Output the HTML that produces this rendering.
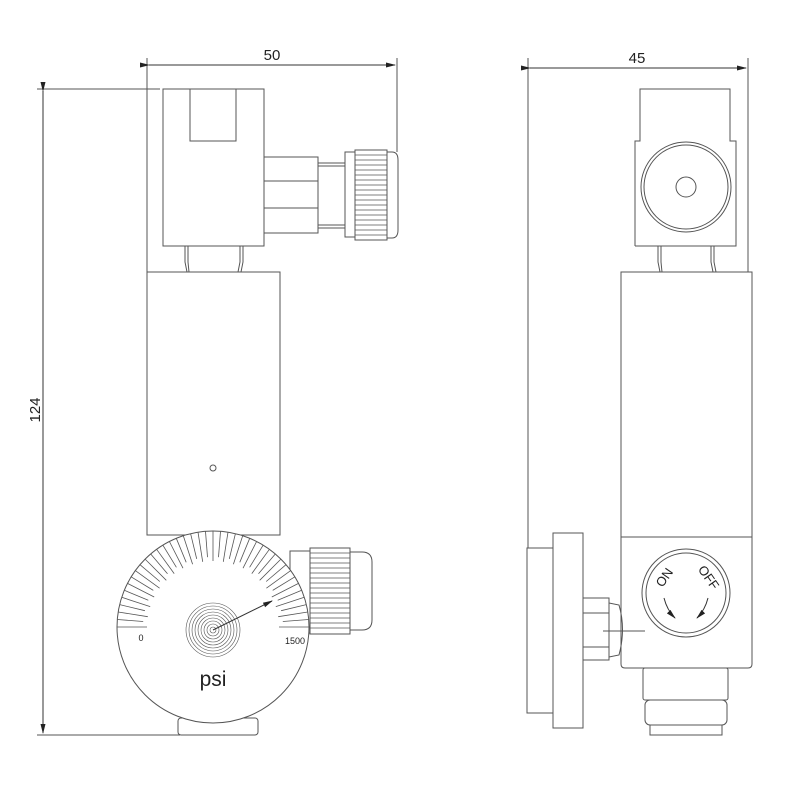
<!DOCTYPE html>
<html><head><meta charset="utf-8"><style>
html,body{margin:0;padding:0;background:#fff;width:800px;height:800px;overflow:hidden}
svg{display:block}
text{font-family:"Liberation Sans",Arial,sans-serif;fill:#222}
</style></head><body>
<svg width="800" height="800" viewBox="0 0 800 800" xmlns="http://www.w3.org/2000/svg">
<defs>
<marker id="ar" markerWidth="10" markerHeight="6" refX="9" refY="3" orient="auto" markerUnits="userSpaceOnUse"><path d="M0,0.5 L10,3 L0,5.5z" fill="#222"/></marker>
</defs>
<g fill="none" stroke="#555" stroke-width="1">
<line x1="147" y1="58" x2="147" y2="272"/>
<line x1="397" y1="58" x2="397" y2="152"/>
<line x1="149" y1="65" x2="395" y2="65" marker-start="url(#ar)" marker-end="url(#ar)" stroke="#333"/>
<line x1="37" y1="89" x2="160" y2="89"/>
<line x1="37" y1="735" x2="180" y2="735"/>
<line x1="43" y1="91" x2="43" y2="733" marker-start="url(#ar)" marker-end="url(#ar)" stroke="#333"/>
<rect x="163" y="89" width="101" height="157"/>
<polyline points="190,89 190,141 236,141 236,89"/>
<rect x="264" y="157" width="54" height="76"/>
<line x1="264" y1="181" x2="318" y2="181"/><line x1="264" y1="208" x2="318" y2="208"/>
<line x1="318" y1="163" x2="345" y2="163"/><line x1="318" y1="166" x2="345" y2="166"/>
<line x1="318" y1="225" x2="345" y2="225"/><line x1="318" y1="228" x2="345" y2="228"/>
<rect x="345" y="152" width="10" height="85"/>
<rect x="355" y="150" width="32" height="90"/>
<path d="M387,152 H392 Q398,152 398,160 V230 Q398,238 392,238 H387"/>
<g stroke-width="0.7"><line x1="355" y1="155" x2="387" y2="155"/><line x1="355" y1="160" x2="387" y2="160"/><line x1="355" y1="165" x2="387" y2="165"/><line x1="355" y1="170" x2="387" y2="170"/><line x1="355" y1="175" x2="387" y2="175"/><line x1="355" y1="180" x2="387" y2="180"/><line x1="355" y1="185" x2="387" y2="185"/><line x1="355" y1="190" x2="387" y2="190"/><line x1="355" y1="195" x2="387" y2="195"/><line x1="355" y1="200" x2="387" y2="200"/><line x1="355" y1="205" x2="387" y2="205"/><line x1="355" y1="210" x2="387" y2="210"/><line x1="355" y1="215" x2="387" y2="215"/><line x1="355" y1="220" x2="387" y2="220"/><line x1="355" y1="225" x2="387" y2="225"/><line x1="355" y1="230" x2="387" y2="230"/><line x1="355" y1="235" x2="387" y2="235"/></g>
<path d="M185,246 V262 L187,272 M188,246 V262 L189,272"/>
<path d="M240,246 V262 L238,272 M243,246 V262 L241,272"/>
<rect x="147" y="272" width="133" height="263"/>
<circle cx="213" cy="468" r="3"/>
<rect x="290" y="551" width="20" height="82"/>
<rect x="310" y="548" width="40" height="86"/>
<path d="M350,552 H362 Q372,552 372,562 V620 Q372,630 362,630 H350"/>
<g stroke-width="0.7"><line x1="310" y1="553" x2="350" y2="553"/><line x1="310" y1="558" x2="350" y2="558"/><line x1="310" y1="563" x2="350" y2="563"/><line x1="310" y1="568" x2="350" y2="568"/><line x1="310" y1="573" x2="350" y2="573"/><line x1="310" y1="578" x2="350" y2="578"/><line x1="310" y1="583" x2="350" y2="583"/><line x1="310" y1="588" x2="350" y2="588"/><line x1="310" y1="593" x2="350" y2="593"/><line x1="310" y1="598" x2="350" y2="598"/><line x1="310" y1="603" x2="350" y2="603"/><line x1="310" y1="608" x2="350" y2="608"/><line x1="310" y1="613" x2="350" y2="613"/><line x1="310" y1="618" x2="350" y2="618"/><line x1="310" y1="623" x2="350" y2="623"/><line x1="310" y1="628" x2="350" y2="628"/></g>
<rect x="178" y="718" width="80" height="17" rx="3"/>
<circle cx="213" cy="627" r="96" fill="#fff"/>
<g id="ticks" stroke-width="0.8"></g>
<g stroke-width="0.6">
<circle cx="213" cy="630" r="27"/><circle cx="213" cy="630" r="24"/><circle cx="213" cy="630" r="21"/><circle cx="213" cy="630" r="18"/><circle cx="213" cy="630" r="15"/><circle cx="213" cy="630" r="12"/><circle cx="213" cy="630" r="9"/><circle cx="213" cy="630" r="6"/><circle cx="213" cy="630" r="3"/>
</g>
<line x1="213" y1="630" x2="272" y2="601" marker-end="url(#ar)" stroke="#333"/>

<line x1="528" y1="58" x2="528" y2="548"/>
<line x1="748" y1="58" x2="748" y2="272"/>
<line x1="530" y1="68" x2="746" y2="68" marker-start="url(#ar)" marker-end="url(#ar)" stroke="#333"/>
<polyline points="635,246 635,141 640,141 640,89 730,89 730,141 736,141 736,246 635,246"/>
<circle cx="686" cy="187" r="45"/><circle cx="686" cy="187" r="42"/>
<circle cx="686" cy="187" r="10"/>
<path d="M658,246 V262 L660,272 M661,246 V262 L662,272"/>
<path d="M711,246 V262 L713,272 M714,246 V262 L716,272"/>
<rect x="621" y="272" width="131" height="265"/>
<path d="M621,537 H752 V664 Q752,668 748,668 H625 Q621,668 621,664 Z"/>
<circle cx="686" cy="593" r="44"/><circle cx="686" cy="593" r="40"/>
<path d="M664,598 Q667,610 675,618" marker-end="url(#ar)" stroke="#333"/>
<path d="M708,598 Q705,610 697,618" marker-end="url(#ar)" stroke="#333"/>
<rect x="527" y="548" width="26" height="165"/>
<rect x="553" y="533" width="30" height="195"/>
<rect x="583" y="598" width="26" height="62"/>
<line x1="583" y1="613" x2="609" y2="613"/><line x1="583" y1="647" x2="609" y2="647"/>
<path d="M609,603 L619,605 Q626,629 619,655 L609,657"/>
<line x1="603" y1="631" x2="645" y2="631"/>
<rect x="643" y="668" width="85" height="32" rx="2"/>
<rect x="645" y="700" width="82" height="25" rx="5"/>
<rect x="650" y="725" width="72" height="10"/>
</g>
<text x="272" y="60" font-size="15" text-anchor="middle">50</text>
<text x="637" y="63" font-size="15" text-anchor="middle">45</text>
<text x="0" y="0" font-size="15" text-anchor="middle" transform="translate(40,410) rotate(-90)">124</text>
<text x="141" y="641" font-size="9" text-anchor="middle">0</text>
<text x="295" y="644" font-size="9" text-anchor="middle">1500</text>
<text x="213" y="686" font-size="21" text-anchor="middle">psi</text>
<text x="0" y="0" font-size="13" text-anchor="middle" transform="translate(668,580) rotate(-55)">ON</text>
<text x="0" y="0" font-size="13" text-anchor="middle" transform="translate(705,580) rotate(55)">OFF</text>
</svg>
<script>
(function(){
var g=document.getElementById('ticks'),cx=213,cy=627,s='';
for(var i=0;i<=40;i++){var a=Math.PI*(1+i/40);var r1=(i%2?70:66),r2=96;
s+='<line x1="'+(cx+r1*Math.cos(a)).toFixed(1)+'" y1="'+(cy+r1*Math.sin(a)).toFixed(1)+'" x2="'+(cx+r2*Math.cos(a)).toFixed(1)+'" y2="'+(cy+r2*Math.sin(a)).toFixed(1)+'"/>';}
g.innerHTML=s;
})();
</script>
</body></html>
